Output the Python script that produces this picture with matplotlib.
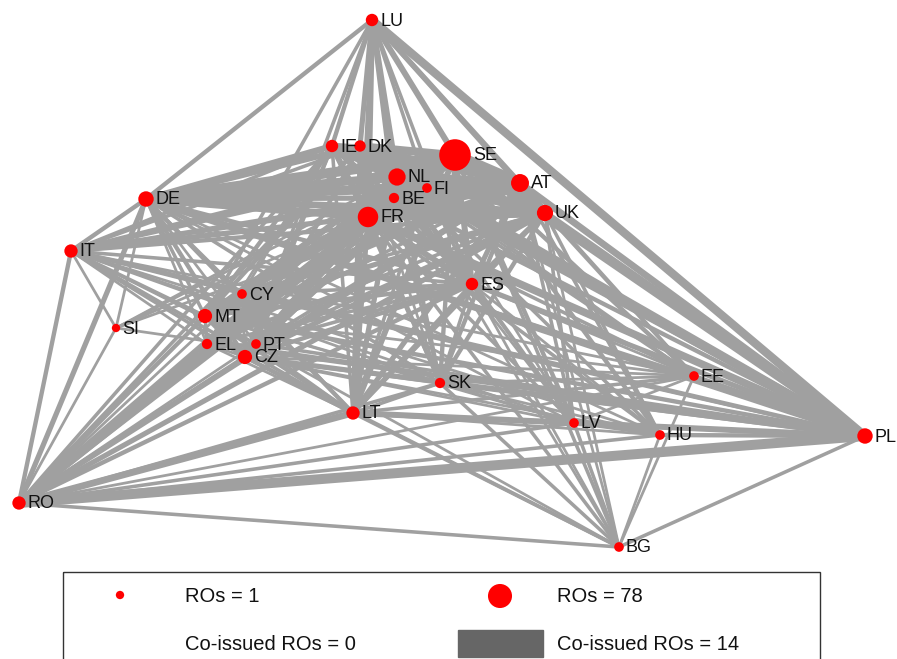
import numpy as np
import matplotlib
matplotlib.use("Agg")
import matplotlib.pyplot as plt
from matplotlib.patches import Rectangle

plt.rcParams['font.family'] = ['Liberation Sans', 'DejaVu Sans']

# node layout (pixel coords of the reference), RO counts
names = ["LU", "IE", "DK", "SE", "NL", "FI", "BE", "AT", "UK", "FR", "DE", "IT", "CY", "ES",
         "SI", "MT", "EL", "PT", "CZ", "SK", "EE", "LT", "LV", "HU", "PL", "RO", "BG"]
xs = [372, 332, 360, 455, 397, 427, 394, 520, 545, 368, 146, 71, 242, 472,
      116, 205, 207, 256, 245, 440, 694, 353, 574, 660, 865, 19, 619]
ys = [20, 146, 146, 155, 177, 188, 198, 183, 213, 217, 199, 251, 294, 284,
      328, 316, 344, 344, 357, 383, 376, 413, 423, 435, 436, 503, 547]
ros = [8, 8, 6, 78, 20, 3, 4, 22, 17, 30, 15, 10, 3, 8,
       1, 12, 4, 3, 12, 4, 3, 10, 3, 3, 15, 10, 3]

# co-issued ROs between pairs
edges = [
    ("SE", "NL", 12), ("SE", "FR", 13), ("SE", "AT", 11), ("SE", "UK", 9), ("SE", "DE", 10),
    ("SE", "IE", 6), ("SE", "DK", 7), ("SE", "FI", 5), ("SE", "BE", 6), ("SE", "LU", 5),
    ("SE", "IT", 4), ("SE", "ES", 5), ("SE", "CZ", 5), ("SE", "MT", 5), ("SE", "LT", 5),
    ("SE", "PL", 8), ("SE", "RO", 6), ("SE", "SK", 3), ("SE", "CY", 3), ("SE", "EL", 3),
    ("SE", "PT", 3), ("SE", "EE", 3), ("SE", "LV", 3), ("SE", "HU", 3), ("SE", "BG", 2),
    ("SE", "SI", 1),
    ("FR", "NL", 10), ("FR", "AT", 9), ("FR", "UK", 8), ("FR", "DE", 7), ("FR", "IE", 5),
    ("FR", "DK", 5), ("FR", "FI", 4), ("FR", "BE", 5), ("FR", "LU", 5), ("FR", "IT", 4),
    ("FR", "ES", 5), ("FR", "CZ", 5), ("FR", "MT", 5), ("FR", "LT", 4), ("FR", "PL", 7),
    ("FR", "RO", 5), ("FR", "SK", 3), ("FR", "CY", 3), ("FR", "EL", 3), ("FR", "PT", 3),
    ("FR", "EE", 2), ("FR", "LV", 2), ("FR", "HU", 2), ("FR", "BG", 2), ("FR", "SI", 1),
    ("NL", "AT", 9), ("NL", "UK", 7), ("NL", "DE", 8), ("NL", "IE", 5), ("NL", "DK", 5),
    ("NL", "FI", 4), ("NL", "BE", 4), ("NL", "LU", 5), ("NL", "IT", 3), ("NL", "ES", 4),
    ("NL", "CZ", 4), ("NL", "MT", 4), ("NL", "LT", 4), ("NL", "PL", 7), ("NL", "RO", 4),
    ("NL", "SK", 3), ("NL", "CY", 2), ("NL", "EL", 2), ("NL", "PT", 2), ("NL", "EE", 2),
    ("NL", "LV", 2), ("NL", "HU", 2), ("NL", "BG", 1), ("NL", "SI", 1),
    ("AT", "UK", 8), ("AT", "DE", 9), ("AT", "IE", 4), ("AT", "DK", 4), ("AT", "FI", 3),
    ("AT", "BE", 4), ("AT", "LU", 4), ("AT", "IT", 3), ("AT", "ES", 4), ("AT", "CZ", 4),
    ("AT", "MT", 4), ("AT", "LT", 4), ("AT", "PL", 6), ("AT", "RO", 4), ("AT", "SK", 3),
    ("AT", "CY", 2), ("AT", "EL", 2), ("AT", "PT", 2), ("AT", "EE", 2), ("AT", "LV", 2),
    ("AT", "HU", 2), ("AT", "BG", 1), ("AT", "SI", 1),
    ("UK", "DE", 6), ("UK", "IE", 4), ("UK", "DK", 4), ("UK", "FI", 3), ("UK", "BE", 3),
    ("UK", "LU", 4), ("UK", "IT", 3), ("UK", "ES", 4), ("UK", "CZ", 4), ("UK", "MT", 4),
    ("UK", "LT", 3), ("UK", "PL", 6), ("UK", "RO", 4), ("UK", "SK", 3), ("UK", "CY", 2),
    ("UK", "EL", 2), ("UK", "PT", 2), ("UK", "EE", 2), ("UK", "LV", 2), ("UK", "HU", 2),
    ("UK", "BG", 1),
    ("DE", "IE", 5), ("DE", "DK", 5), ("DE", "FI", 3), ("DE", "BE", 4), ("DE", "LU", 3),
    ("DE", "IT", 3), ("DE", "ES", 3), ("DE", "CZ", 3), ("DE", "MT", 2), ("DE", "LT", 3),
    ("DE", "PL", 6), ("DE", "RO", 4), ("DE", "SK", 2), ("DE", "CY", 1), ("DE", "EL", 1),
    ("DE", "PT", 1), ("DE", "EE", 1), ("DE", "LV", 1), ("DE", "HU", 1), ("DE", "SI", 1),
    ("LU", "IE", 3), ("LU", "DK", 4), ("LU", "FI", 2), ("LU", "BE", 3),
    ("LU", "ES", 2), ("LU", "CZ", 2), ("LU", "MT", 2), ("LU", "LT", 2), ("LU", "PL", 8),
    ("IE", "DK", 4), ("IE", "FI", 2), ("IE", "BE", 3), ("IE", "IT", 2), ("IE", "ES", 3),
    ("IE", "CZ", 3), ("IE", "MT", 3), ("IE", "LT", 2), ("IE", "PL", 4), ("IE", "RO", 2),
    ("IE", "SK", 1), ("IE", "CY", 1), ("IE", "EL", 1), ("IE", "PT", 1),
    ("DK", "FI", 3), ("DK", "BE", 3), ("DK", "IT", 2), ("DK", "ES", 3), ("DK", "CZ", 3),
    ("DK", "MT", 3), ("DK", "LT", 3), ("DK", "PL", 4), ("DK", "RO", 2), ("DK", "SK", 1),
    ("DK", "EE", 1), ("DK", "LV", 1),
    ("FI", "BE", 2), ("FI", "ES", 2), ("FI", "CZ", 2), ("FI", "MT", 2), ("FI", "LT", 2),
    ("FI", "PL", 3), ("FI", "RO", 2), ("FI", "EE", 1), ("FI", "LV", 1),
    ("BE", "IT", 2), ("BE", "ES", 2), ("BE", "CZ", 2), ("BE", "MT", 2), ("BE", "LT", 2),
    ("BE", "PL", 3), ("BE", "RO", 2), ("BE", "SK", 1),
    ("IT", "ES", 2), ("IT", "CZ", 2), ("IT", "MT", 2), ("IT", "LT", 2), ("IT", "PL", 3),
    ("IT", "RO", 3), ("IT", "EL", 1), ("IT", "PT", 1), ("IT", "CY", 1), ("IT", "SK", 1),
    ("IT", "SI", 1), ("IT", "EE", 1), ("IT", "LV", 1), ("IT", "HU", 1),
    ("ES", "CZ", 3), ("ES", "MT", 3), ("ES", "LT", 3), ("ES", "PL", 4), ("ES", "RO", 3),
    ("ES", "SK", 2), ("ES", "CY", 2), ("ES", "EL", 2), ("ES", "PT", 2), ("ES", "EE", 1),
    ("ES", "LV", 1), ("ES", "HU", 1), ("ES", "BG", 1),
    ("CZ", "MT", 3), ("CZ", "LT", 3), ("CZ", "PL", 4), ("CZ", "RO", 3), ("CZ", "SK", 2),
    ("CZ", "CY", 1), ("CZ", "EL", 1), ("CZ", "PT", 2), ("CZ", "EE", 1), ("CZ", "LV", 1),
    ("CZ", "HU", 1), ("CZ", "BG", 2),
    ("MT", "LT", 3), ("MT", "PL", 3), ("MT", "RO", 3), ("MT", "SK", 1), ("MT", "CY", 2),
    ("MT", "EL", 2), ("MT", "PT", 2), ("MT", "EE", 1), ("MT", "LV", 1), ("MT", "BG", 1),
    ("LT", "PL", 5), ("LT", "RO", 6), ("LT", "SK", 2), ("LT", "LV", 2), ("LT", "HU", 1),
    ("LT", "EE", 2), ("LT", "BG", 2), ("LT", "CY", 1), ("LT", "EL", 1), ("LT", "PT", 1),
    ("PL", "SK", 3), ("PL", "LV", 3), ("PL", "HU", 3), ("PL", "EE", 3), ("PL", "BG", 2),
    ("PL", "RO", 10), ("PL", "CY", 2), ("PL", "EL", 2), ("PL", "PT", 2), ("PL", "SI", 1),
    ("RO", "SK", 2), ("RO", "LV", 2), ("RO", "HU", 2), ("RO", "EE", 1), ("RO", "BG", 2),
    ("RO", "CY", 1), ("RO", "EL", 1), ("RO", "PT", 1), ("RO", "SI", 1),
    ("SK", "LV", 1), ("SK", "HU", 1), ("SK", "EE", 1), ("SK", "BG", 2),
    ("LV", "BG", 2), ("LV", "EE", 1), ("LV", "HU", 1),
    ("HU", "BG", 1), ("EE", "BG", 1), ("CY", "EL", 1), ("EL", "PT", 1),
]

pos = {n: (x, y) for n, x, y in zip(names, xs, ys)}

W, H = 897, 659
fig = plt.figure(figsize=(W / 100, H / 100), dpi=100)
ax = fig.add_axes([0, 0, 1, 1])
ax.set_xlim(0, W)
ax.set_ylim(H, 0)
ax.axis('off')

edge_col = '#a0a0a0'
for a, b, w in sorted(edges, key=lambda e: e[2]):
    (x1, y1), (x2, y2) = pos[a], pos[b]
    ax.plot([x1, x2], [y1, y2], color=edge_col, lw=1.4 + 0.58 * w,
            solid_capstyle='butt', zorder=1)

sizes = 36 + 480 * (np.array(ros) - 1) / 77.0
ax.scatter(xs, ys, s=sizes, color='#ff0000', edgecolors='none', zorder=3)

for n, x, y, s in zip(names, xs, ys, sizes):
    r = np.sqrt(s) / 2 * 100 / 72
    ax.text(x + r + 2, y + 1, n, fontsize=13, color='#111111',
            ha='left', va='center', zorder=4)

# legend box
ax.add_patch(Rectangle((63, 572), 757, 120, fill=False, edgecolor='#333333', lw=1.0,
                       zorder=5, clip_on=False))
ax.scatter([120], [595], s=36, color='#ff0000', edgecolors='none', zorder=6)
ax.scatter([500], [596], s=300, color='#ff0000', edgecolors='none', zorder=6)
ax.text(185, 596, "ROs = 1", fontsize=14.5, ha='left', va='center', color='#111111', zorder=6)
ax.text(557, 596, "ROs = 78", fontsize=14.5, ha='left', va='center', color='#111111', zorder=6)
ax.text(185, 644, "Co-issued ROs = 0", fontsize=14.5, ha='left', va='center', color='#111111', zorder=6)
ax.add_patch(Rectangle((458, 630), 85, 27, color='#666666', zorder=6))
ax.text(557, 644, "Co-issued ROs = 14", fontsize=14.5, ha='left', va='center', color='#111111', zorder=6)

fig.savefig("out.png", dpi=100, facecolor='white')
